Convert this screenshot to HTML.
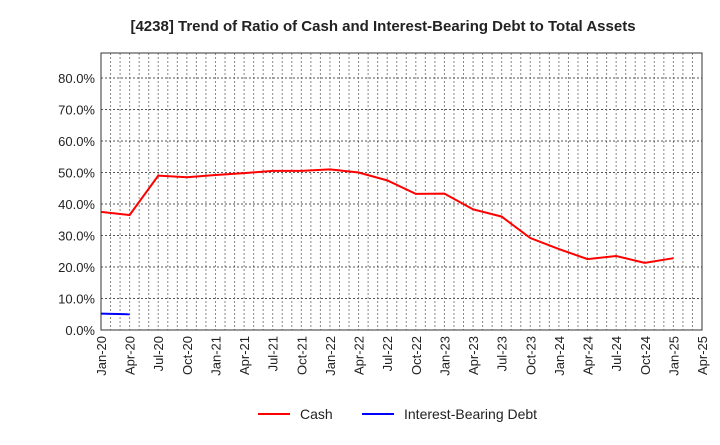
<!DOCTYPE html>
<html><head><meta charset="utf-8"><style>
body{margin:0;background:#fff;}
svg text{font-family:"Liberation Sans",Arial,sans-serif;}
</style></head><body>
<svg id="c" width="720" height="440" xmlns="http://www.w3.org/2000/svg">
<text x="383" y="31" text-anchor="middle" font-size="15" font-weight="bold" fill="#222">[4238]  Trend of Ratio of Cash and Interest-Bearing Debt to Total Assets</text>
<g id="grid"></g><g id="axes"></g><g id="series"></g>
<g>
<line x1="258" y1="414" x2="290" y2="414" stroke="#f00" stroke-width="2"/>
<text x="300" y="419" font-size="14" fill="#222">Cash</text>
<line x1="362" y1="414" x2="394" y2="414" stroke="#00f" stroke-width="2"/>
<text x="404" y="419" font-size="14" fill="#222">Interest-Bearing Debt</text>
</g>
</svg>
<script>
const xLabels=["Jan-20","Apr-20","Jul-20","Oct-20","Jan-21","Apr-21","Jul-21","Oct-21","Jan-22","Apr-22","Jul-22","Oct-22","Jan-23","Apr-23","Jul-23","Oct-23","Jan-24","Apr-24","Jul-24","Oct-24","Jan-25","Apr-25"];
const yTicks=[0,10,20,30,40,50,60,70,80];
const cash=[37.5,36.5,49,48.5,49.2,49.8,50.5,50.5,51,50,47.5,43.2,43.3,38.3,36,29.2,25.7,22.5,23.5,21.3,22.8];
const debt=[5.2,5.0];
const L=101,R=702,T=53,B=330;
const NS="http://www.w3.org/2000/svg";
const x=i=>L+(R-L)*i/21;
const y=v=>B-(B-78)*v/80;
function mk(t,a,p){const e=document.createElementNS(NS,t);for(const k in a)e.setAttribute(k,a[k]);p.appendChild(e);return e;}
const g=document.getElementById('grid'),ax=document.getElementById('axes'),s=document.getElementById('series');
for(let m=1;m<63;m++){const xx=L+(R-L)*m/63;const l=mk('line',{x1:xx,x2:xx,y1:T,y2:B,stroke:'#888','stroke-dasharray':'2,2','stroke-width':1},g);

}
yTicks.forEach(v=>{const l=mk('line',{x1:L,x2:R,y1:y(v),y2:y(v),stroke:'#555','stroke-dasharray':'2,2','stroke-width':1},g);


const t=mk('text',{x:L-6,y:y(v)+5,'text-anchor':'end','font-size':13,fill:'#222'},ax);t.textContent=v.toFixed(1)+'%';

});
const fr=mk('rect',{x:L,y:T,width:R-L,height:B-T,fill:'none',stroke:'#333','stroke-width':1},ax);


xLabels.forEach((lb,i)=>{const t=mk('text',{transform:`translate(${x(i)+5},${B+6}) rotate(-90)`,'text-anchor':'end','font-size':13,fill:'#222'},ax);t.textContent=lb;

});
function line(d,c,n){const p=mk('polyline',{points:d.map((v,i)=>x(i)+','+y(v)).join(' '),fill:'none',stroke:c,'stroke-width':2},s);

}
line(cash,'#f00','cash-line');
line(debt,'#00f','debt-line');
</script>
</body></html>
